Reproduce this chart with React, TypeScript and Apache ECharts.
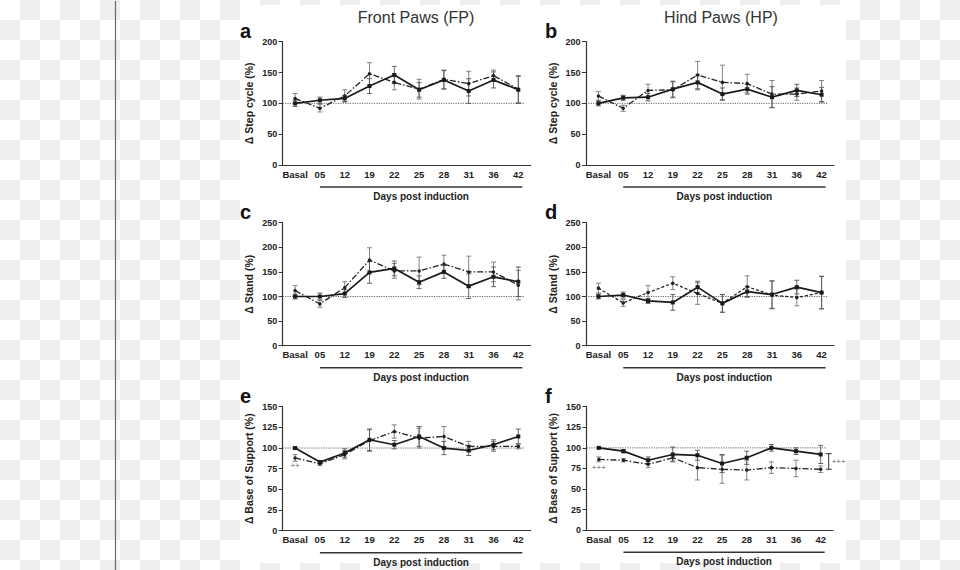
import React, { useEffect, useRef } from "react";
import * as echarts from "echarts";

const days = ["Basal", "05", "12", "19", "22", "25", "28", "31", "36", "42"];

// a: Front paws – step cycle
const fpStepSolid = [100, 105, 108, 128, 146, 122, 138, 120, 138, 122];
const fpStepSolidErr = [5, 5, 5, 12, 14, 12, 15, 20, 13, 22];
const fpStepDash = [108, 92, 112, 148, 134, 123, 139, 132, 145, 123];
const fpStepDashErr = [8, 6, 10, 18, 12, 16, 15, 20, 9, 22];

// b: Hind paws – step cycle
const hpStepSolid = [100, 109, 110, 123, 134, 115, 123, 110, 121, 114];
const hpStepSolidErr = [4, 4, 6, 13, 12, 10, 8, 17, 10, 12];
const hpStepDash = [112, 92, 121, 122, 146, 134, 132, 115, 115, 120];
const hpStepDashErr = [7, 5, 10, 13, 22, 28, 15, 22, 10, 17];

// c: Front paws – stand
const fpStandSolid = [100, 100, 106, 149, 157, 129, 150, 121, 140, 130];
const fpStandSolidErr = [5, 7, 8, 22, 15, 13, 13, 25, 20, 30];
const fpStandDash = [112, 85, 118, 174, 152, 152, 166, 150, 150, 123];
const fpStandDashErr = [10, 7, 12, 25, 15, 28, 18, 32, 20, 30];

// d: Hind paws – stand
const hpStandSolid = [100, 103, 91, 88, 119, 86, 110, 104, 119, 108];
const hpStandSolidErr = [5, 6, 5, 16, 12, 18, 10, 28, 14, 33];
const hpStandDash = [117, 87, 108, 127, 106, 86, 120, 103, 98, 108];
const hpStandDashErr = [10, 7, 14, 13, 22, 18, 22, 28, 17, 33];

// e: Front paws – base of support
const fpBosSolid = [100, 83, 94, 110, 104, 114, 100, 97, 104, 114];
const fpBosSolidErr = [1, 2, 5, 13, 5, 12, 8, 6, 6, 9];
const fpBosDash = [88, 81, 92, 109, 120, 112, 114, 102, 102, 102];
const fpBosDashErr = [4, 2, 5, 13, 8, 12, 12, 6, 6, 3];

// f: Hind paws – base of support
const hpBosSolid = [100, 96, 85, 92, 91, 81, 88, 100, 96, 92];
const hpBosSolidErr = [1, 2, 4, 9, 6, 11, 8, 4, 4, 11];
const hpBosDash = [86, 85, 80, 88, 76, 74, 73, 76, 75, 74];
const hpBosDashErr = [3, 2, 4, 4, 15, 17, 12, 7, 10, 4];

// significance marks
const fpBosBasalMark = { text: "++", value: 79 };
const hpBosBasalMark = { text: "+++", value: 76 };
const hpBosEndMark = { text: "+++", value: 83.5, low: 74, high: 93 };

const columnTitles = ["Front Paws (FP)", "Hind Paws (HP)"];
const panelLetters = ["a", "b", "c", "d", "e", "f"];
const yNames = ["\u0394 Step cycle (%)", "\u0394 Stand (%)", "\u0394 Base of Support (%)"];
const yMax = [200, 250, 150];
const yInterval = [50, 50, 25];
const xName = "Days post induction";

const FONT = '"Liberation Sans", Arial, sans-serif';
const INK = "#222";

const panels = [
  { solid: fpStepSolid, solidErr: fpStepSolidErr, dash: fpStepDash, dashErr: fpStepDashErr },
  { solid: hpStepSolid, solidErr: hpStepSolidErr, dash: hpStepDash, dashErr: hpStepDashErr },
  { solid: fpStandSolid, solidErr: fpStandSolidErr, dash: fpStandDash, dashErr: fpStandDashErr },
  { solid: hpStandSolid, solidErr: hpStandSolidErr, dash: hpStandDash, dashErr: hpStandDashErr, dotted: true },
  { solid: fpBosSolid, solidErr: fpBosSolidErr, dash: fpBosDash, dashErr: fpBosDashErr },
  { solid: hpBosSolid, solidErr: hpBosSolidErr, dash: hpBosDash, dashErr: hpBosDashErr },
];

const grids = [
  { left: 282.7, top: 41.7, width: 248, height: 123.3 },
  { left: 586, top: 41.7, width: 248, height: 123.3 },
  { left: 282.7, top: 222.7, width: 248, height: 123 },
  { left: 586, top: 222.7, width: 248, height: 123 },
  { left: 282.7, top: 406.7, width: 248, height: 124 },
  { left: 586.5, top: 406.7, width: 246.5, height: 123.5 },
];

function barRenderer(offset: number, half: number, color: string, width: number) {
  return (params: any, api: any) => {
    const x = api.value(0);
    const lo = api.coord([x, api.value(1)]);
    const hi = api.coord([x, api.value(2)]);
    const cx = lo[0] + offset;
    const style = { stroke: color, lineWidth: width };
    return {
      type: "group",
      children: [
        { type: "line", shape: { x1: cx, y1: lo[1], x2: cx, y2: hi[1] }, style },
        { type: "line", shape: { x1: cx - half, y1: lo[1], x2: cx + half, y2: lo[1] }, style },
        { type: "line", shape: { x1: cx - half, y1: hi[1], x2: cx + half, y2: hi[1] }, style },
      ],
    };
  };
}

function refLineRenderer(params: any, api: any) {
  const p = api.coord([api.value(0), api.value(1)]);
  const x0 = params.coordSys.x;
  return {
    type: "line",
    shape: { x1: x0, y1: p[1], x2: p[0] + 6, y2: p[1] },
    style: { stroke: "#555", lineWidth: 0.9, lineDash: [1.2, 1.2] },
  };
}

export default function App() {
  const ref = useRef<HTMLDivElement>(null);

  useEffect(() => {
    if (!ref.current) return;
    const chart = echarts.init(ref.current, null, { renderer: "svg" });

    const xAxes = grids.map((_, i) => ({
      type: "category",
      gridIndex: i,
      data: days,
      boundaryGap: true,
      axisLine: { lineStyle: { color: "#333", width: 1.2 } },
      axisTick: { alignWithLabel: true, length: 4, lineStyle: { color: "#333", width: 1 } },
      axisLabel: { interval: 0, margin: 4, color: INK, fontSize: 9.5, fontWeight: "bold", fontFamily: FONT },
      splitLine: { show: false },
    }));

    const yAxes = grids.map((_, i) => {
      const row = Math.floor(i / 2);
      return {
        type: "value",
        gridIndex: i,
        min: 0,
        max: yMax[row],
        interval: yInterval[row],
        name: yNames[row],
        nameLocation: "middle",
        nameGap: 28,
        nameTextStyle: { color: INK, fontSize: 10.5, fontWeight: "bold", fontFamily: FONT },
        axisLine: { show: true, lineStyle: { color: "#333", width: 1.2 } },
        axisTick: { show: true, length: 4, lineStyle: { color: "#333", width: 1 } },
        axisLabel: { margin: 5.5, color: INK, fontSize: 9, fontWeight: "bold", fontFamily: FONT },
        splitLine: { show: false },
      };
    });

    const series: any[] = [];
    panels.forEach((p, i) => {
      series.push({
        type: "custom",
        xAxisIndex: i,
        yAxisIndex: i,
        renderItem: refLineRenderer,
        data: [[days.length - 1, 100]],
        encode: { x: 0, y: 1 },
        silent: true,
        z: 1,
      });
      series.push({
        type: "custom",
        xAxisIndex: i,
        yAxisIndex: i,
        renderItem: barRenderer(0, 2.5, "#777", 0.9),
        data: p.dash.map((v, k) => [k, v - p.dashErr[k], v + p.dashErr[k]]),
        encode: { x: 0, y: [1, 2] },
        silent: true,
        z: 2,
      });
      series.push({
        type: "custom",
        xAxisIndex: i,
        yAxisIndex: i,
        renderItem: barRenderer(0, 2.5, "#555", 0.9),
        data: p.solid.map((v, k) => [k, v - p.solidErr[k], v + p.solidErr[k]]),
        encode: { x: 0, y: [1, 2] },
        silent: true,
        z: 2,
      });
      const dashSeries: any = {
        type: "line",
        xAxisIndex: i,
        yAxisIndex: i,
        data: p.dash,
        symbol: "circle",
        symbolSize: 3.5,
        itemStyle: { color: "#222" },
        lineStyle: { color: "#222", width: 1.3, type: (p as any).dotted ? [3, 2] : [6, 2, 1.5, 2] },
        z: 3,
      };
      if (i === 4) {
        dashSeries.markPoint = {
          symbol: "circle",
          symbolSize: 0,
          label: { show: true, formatter: fpBosBasalMark.text, color: "#666", fontSize: 8, fontFamily: FONT },
          data: [{ coord: [0, fpBosBasalMark.value] }],
        };
      }
      if (i === 5) {
        dashSeries.markPoint = {
          symbol: "circle",
          symbolSize: 0,
          label: { show: true, color: "#666", fontSize: 8, fontFamily: FONT },
          data: [
            { coord: [0, hpBosBasalMark.value], label: { formatter: hpBosBasalMark.text } },
            { coord: [days.length - 1, hpBosEndMark.value], label: { formatter: hpBosEndMark.text, offset: [18, 0] } },
          ],
        };
      }
      series.push(dashSeries);
      series.push({
        type: "line",
        xAxisIndex: i,
        yAxisIndex: i,
        data: p.solid,
        symbol: "rect",
        symbolSize: 4,
        itemStyle: { color: "#1a1a1a" },
        lineStyle: { color: "#1a1a1a", width: 1.7 },
        z: 4,
      });
      if (i === 5) {
        series.push({
          type: "custom",
          xAxisIndex: i,
          yAxisIndex: i,
          renderItem: barRenderer(8, 3, "#333", 1),
          data: [[days.length - 1, hpBosEndMark.low, hpBosEndMark.high]],
          encode: { x: 0, y: [1, 2] },
          silent: true,
          clip: false,
          z: 2,
        });
      }
    });

    const titles: any[] = [
      { text: columnTitles[0], left: 411, top: 4, textAlign: "center",
        textStyle: { color: "#333", fontSize: 16, fontWeight: "normal", fontFamily: FONT } },
      { text: columnTitles[1], left: 716, top: 4, textAlign: "center",
        textStyle: { color: "#333", fontSize: 16, fontWeight: "normal", fontFamily: FONT } },
    ];
    grids.forEach((g, i) => {
      const col = i % 2;
      titles.push({
        text: panelLetters[i],
        left: col === 0 ? 240 : 545,
        top: g.top - 21,
        padding: 0,
        textStyle: { color: "#111", fontSize: 20, fontWeight: "bold", fontFamily: FONT },
      });
    });

    chart.setOption({
      animation: false,
      backgroundColor: "transparent",
      title: titles,
      grid: grids.map((g) => ({ ...g, containLabel: false })),
      xAxis: xAxes,
      yAxis: yAxes,
      series,
      graphic: [
        { id: "panel", type: "rect", z: -10, shape: { x: 240, y: 5, width: 606, height: 558 }, style: { fill: "#ffffff" } },
        { id: "vline", type: "line", z: -10, shape: { x1: 115.5, y1: 1, x2: 115.5, y2: 570 }, style: { stroke: "#6a6a6a", lineWidth: 1.2 } },
      ],
    });

    const extra: any[] = [];
    grids.forEach((_, i) => {
      const start = chart.convertToPixel({ gridIndex: i }, [1, 0]) as number[];
      const end = chart.convertToPixel({ gridIndex: i }, [days.length - 1, 0]) as number[];
      const base = start[1];
      extra.push({
        type: "line",
        shape: { x1: start[0], y1: base + 22, x2: end[0] + 4, y2: base + 22 },
        style: { stroke: "#333", lineWidth: 1.5 },
      });
      extra.push({
        type: "text",
        x: (start[0] + end[0] + 4) / 2,
        y: base + 31.5,
        style: {
          text: xName,
          fill: INK,
          font: `bold 10px ${FONT}`,
          align: "center",
          verticalAlign: "middle",
          textAlign: "center",
          textVerticalAlign: "middle",
        },
      });
    });
    chart.setOption({
      graphic: [
        { id: "panel", type: "rect", z: -10, shape: { x: 240, y: 5, width: 606, height: 558 }, style: { fill: "#ffffff" } },
        { id: "vline", type: "line", z: -10, shape: { x1: 115.5, y1: 1, x2: 115.5, y2: 570 }, style: { stroke: "#6a6a6a", lineWidth: 1.2 } },
        ...extra,
      ],
    });

    return () => chart.dispose();
  }, []);

  return (
    <div
      ref={ref}
      style={{
        position: "absolute",
        left: 0,
        top: 0,
        width: 960,
        height: 570,
        background: "repeating-conic-gradient(#eeeeee 0 25%, #ffffff 0 50%) 0 0 / 40px 40px",
      }}
    />
  );
}
